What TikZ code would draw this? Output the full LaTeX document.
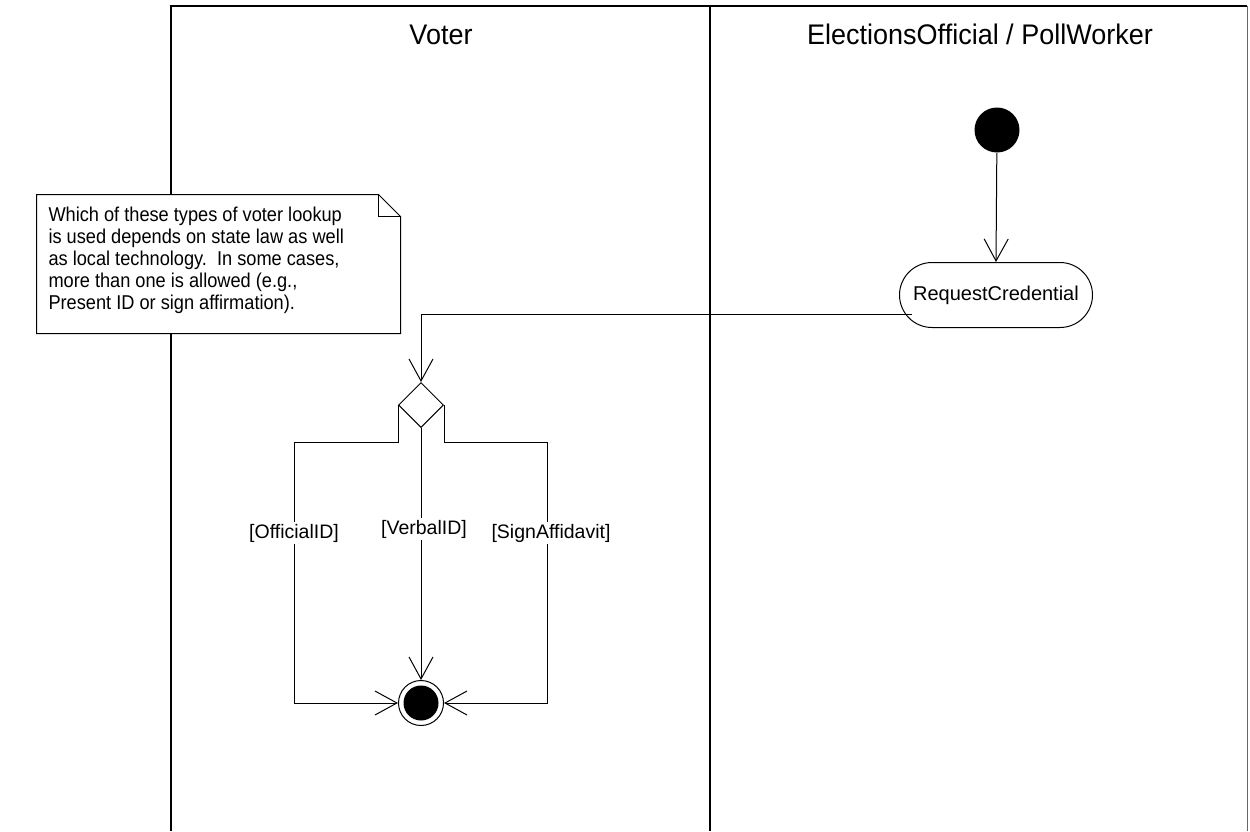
\documentclass[tikz,border=0pt]{standalone}
\usepackage{fontspec}
\setmainfont{Liberation Sans}
\usetikzlibrary{arrows.meta,shapes.geometric,shapes.misc}
\begin{document}
\begin{tikzpicture}[x=1pt,y=-1pt, line width=1pt,
  lane/.style={draw=black, line width=1.4pt},
  title/.style={font=\fontsize{27}{32}\selectfont, inner sep=0pt, anchor=base},
  flow/.style={draw, -{Straight Barb[length=22pt,width=24pt,line width=1pt]}},
  lbl/.style={fill=white, inner sep=1.5pt, font=\fontsize{19.5}{23}\selectfont},
  initnode/.style={circle, fill=black, minimum size=45pt, inner sep=0pt},
  actnode/.style={rounded rectangle, draw, minimum width=193pt, minimum height=65pt, inner sep=0pt, font=\fontsize{20}{24}\selectfont},
  decnode/.style={diamond, draw, minimum width=45pt, minimum height=45pt, inner sep=0pt},
  finnode/.style={circle, draw, minimum size=45pt, inner sep=0pt},
  fininner/.style={circle, fill=black, minimum size=35pt, inner sep=0pt},
  notebox/.style={minimum width=363pt, minimum height=138pt, inner sep=0pt},
  notetext/.style={align=left, inner sep=0pt, font=\fontsize{18.2}{20.2}\selectfont}
]
\useasboundingbox (0,0) rectangle (1250,831);
% swimlanes
\draw[lane] (171,831) -- (171,6) -- (1247,6);
\draw[lane] (710,6) -- (710,831);
\draw[line width=1pt, draw=black!60] (1247,6) -- (1247,831);
\node[title] (t1) at (441,44) {\scalebox{1}[1.05]{Voter}};
\node[title] (t2) at (980,44) {\scalebox{1}[1.05]{ElectionsOfficial / PollWorker}};
% note
\node[notebox] (note) at (218.5,264) {};
\draw[fill=white] (note.south west) -- (note.north west) -- ([xshift=-22pt]note.north east)
  -- ([yshift=-22pt]note.north east) -- (note.south east) -- cycle;
\draw ([xshift=-22pt]note.north east) -- ([xshift=-22pt,yshift=-22pt]note.north east) -- ([yshift=-22pt]note.north east);
\node[notetext, anchor=base west] (ntext) at (48,221)
  {\scalebox{1}[1.1]{\begin{tabular}[t]{@{}l@{}}Which of these types of voter lookup\\is used depends on state law as well\\as local technology.\ \ In some cases,\\more than one is allowed (e.g.,\\Present ID or sign affirmation).\end{tabular}}};
% nodes
\node[initnode] (init) at (997,130) {};
\node[actnode] (req) at (996,295) {RequestCredential};
\node[decnode] (dec) at (421,405) {};
\node[finnode] (fin) at (421,703) {};
\node[fininner] (finc) at (fin.center) {};
% connectors
\draw[flow] (init) -- (req.north);
\coordinate (reqexit) at (912,314);
\draw[flow] (reqexit) -| (dec.north);
\coordinate (lk) at (294,442);
\coordinate (rk) at (547,442);
\draw[flow] (dec.west) |- (lk) |- (fin.west);
\draw[flow] (dec.east) |- (rk) |- (fin.east);
\draw[flow] (dec.south) -- (fin.north);
% guards
\node[lbl] (g1) at (294,533) {[OfficialID]};
\node[lbl] (g2) at (424,529) {[VerbalID]};
\node[lbl] (g3) at (551,533) {[SignAffidavit]};
\end{tikzpicture}
\end{document}
